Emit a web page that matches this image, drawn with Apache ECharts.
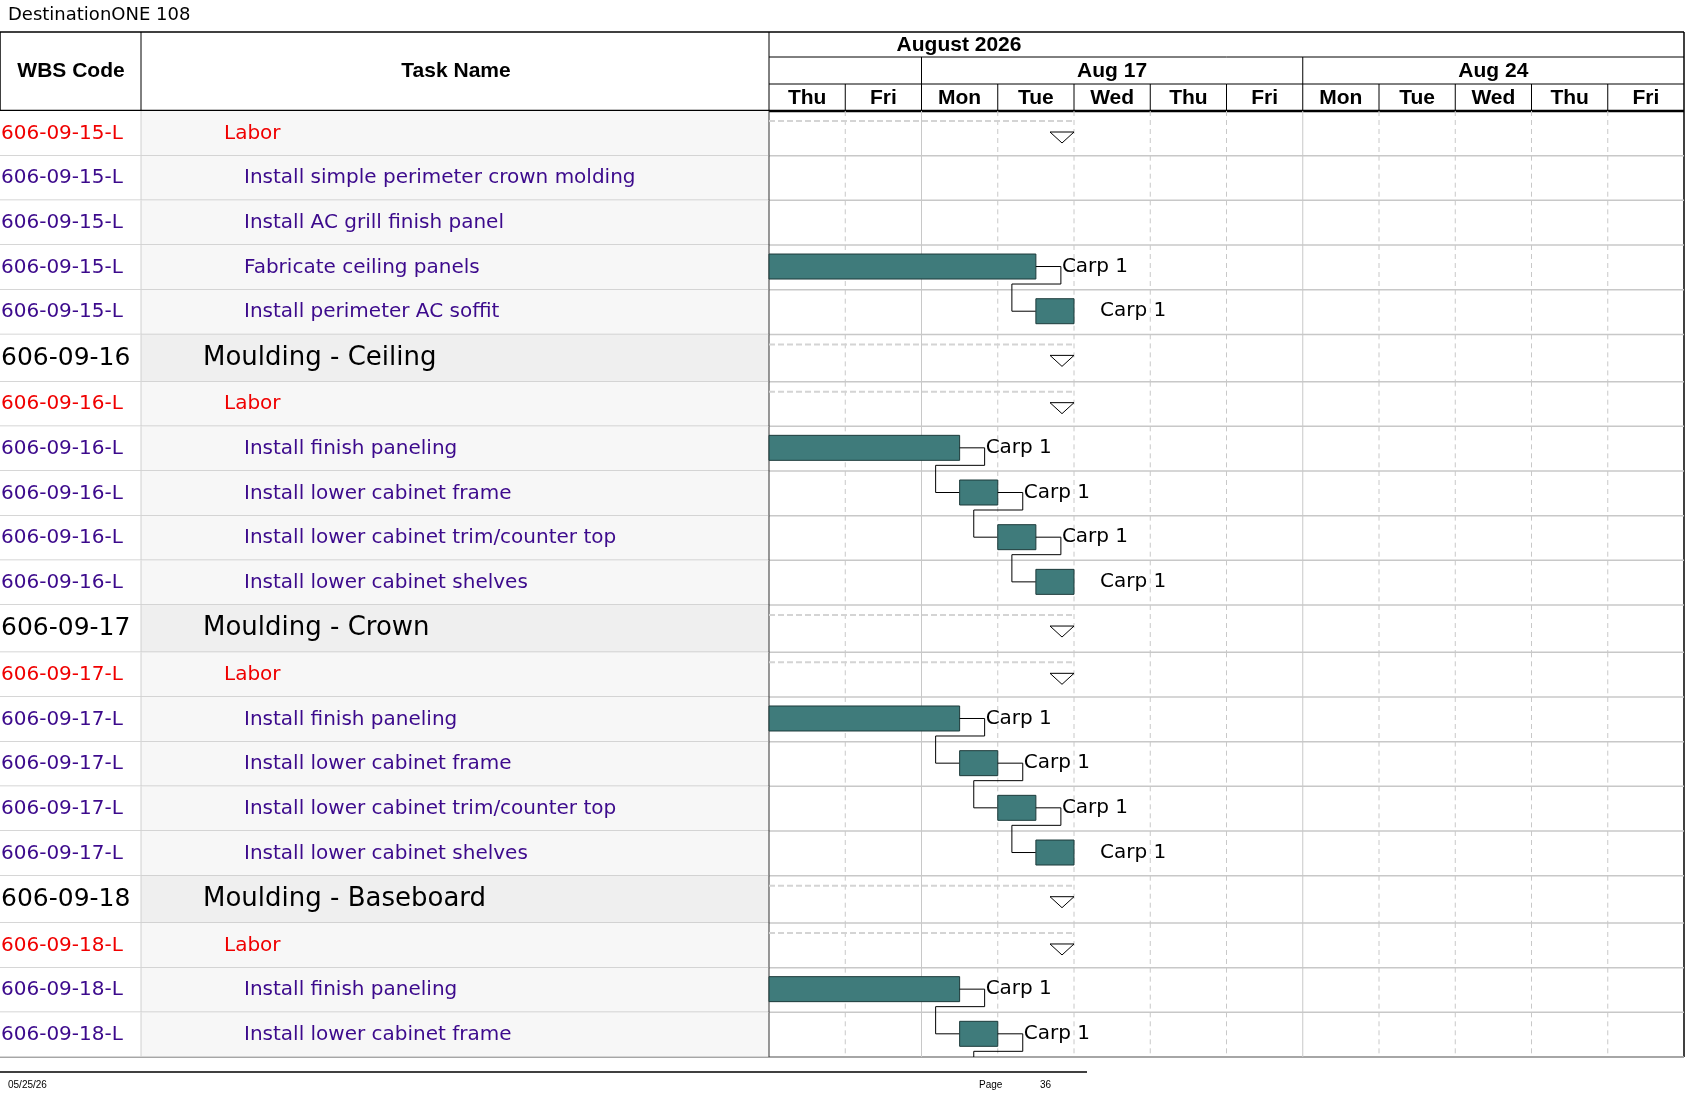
<!DOCTYPE html>
<html>
<head>
<meta charset="utf-8">
<script src="https://cdn.jsdelivr.net/npm/echarts@6/dist/echarts.min.js"></script>
<style>
  html, body { margin: 0; padding: 0; background: #fff; }
  #gantt { width: 1687px; height: 1097px; }
</style>
</head>
<body>
<div id="gantt"></div>
<script>
(function () {
var chart = echarts.init(document.getElementById('gantt'));

var FONT = 'DejaVu Sans';
var HEAD_FONT = 'Liberation Sans';
var NORMAL_H = 44.7, GROUP_H = 47.3;

var days = ['Thu', 'Fri', 'Mon', 'Tue', 'Wed', 'Thu', 'Fri', 'Mon', 'Tue', 'Wed', 'Thu', 'Fri'];
var weeks = [
    { label: '', from: 0, to: 2 },
    { label: 'Aug 17', from: 2, to: 7 },
    { label: 'Aug 24', from: 7, to: 12 }
];

// type: group / labor / task ; s,e = day offsets from Thu Aug 13
var rows = [
    { wbs: '606-09-15-L', name: 'Labor', type: 'labor', sum: [0, 4] },
    { wbs: '606-09-15-L 01', name: 'Install simple perimeter crown molding', type: 'task' },
    { wbs: '606-09-15-L 02', name: 'Install AC grill finish panel', type: 'task' },
    { wbs: '606-09-15-L 03', name: 'Fabricate ceiling panels', type: 'task', s: 0, e: 3.5, res: 'Carp 1', next: true },
    { wbs: '606-09-15-L 04', name: 'Install perimeter AC soffit', type: 'task', s: 3.5, e: 4, res: 'Carp 1' },
    { wbs: '606-09-16', name: 'Moulding - Ceiling', type: 'group', sum: [0, 4] },
    { wbs: '606-09-16-L', name: 'Labor', type: 'labor', sum: [0, 4] },
    { wbs: '606-09-16-L 01', name: 'Install finish paneling', type: 'task', s: 0, e: 2.5, res: 'Carp 1', next: true },
    { wbs: '606-09-16-L 02', name: 'Install lower cabinet frame', type: 'task', s: 2.5, e: 3, res: 'Carp 1', next: true },
    { wbs: '606-09-16-L 03', name: 'Install lower cabinet trim/counter top', type: 'task', s: 3, e: 3.5, res: 'Carp 1', next: true },
    { wbs: '606-09-16-L 04', name: 'Install lower cabinet shelves', type: 'task', s: 3.5, e: 4, res: 'Carp 1' },
    { wbs: '606-09-17', name: 'Moulding - Crown', type: 'group', sum: [0, 4] },
    { wbs: '606-09-17-L', name: 'Labor', type: 'labor', sum: [0, 4] },
    { wbs: '606-09-17-L 01', name: 'Install finish paneling', type: 'task', s: 0, e: 2.5, res: 'Carp 1', next: true },
    { wbs: '606-09-17-L 02', name: 'Install lower cabinet frame', type: 'task', s: 2.5, e: 3, res: 'Carp 1', next: true },
    { wbs: '606-09-17-L 03', name: 'Install lower cabinet trim/counter top', type: 'task', s: 3, e: 3.5, res: 'Carp 1', next: true },
    { wbs: '606-09-17-L 04', name: 'Install lower cabinet shelves', type: 'task', s: 3.5, e: 4, res: 'Carp 1' },
    { wbs: '606-09-18', name: 'Moulding - Baseboard', type: 'group', sum: [0, 4] },
    { wbs: '606-09-18-L', name: 'Labor', type: 'labor', sum: [0, 4] },
    { wbs: '606-09-18-L 01', name: 'Install finish paneling', type: 'task', s: 0, e: 2.5, res: 'Carp 1', next: true },
    { wbs: '606-09-18-L 02', name: 'Install lower cabinet frame', type: 'task', s: 2.5, e: 3, res: 'Carp 1', next: 'cut' }
];

var rowTop = 0;
var data = rows.map(function (r, i) {
    var h = r.type == 'group' ? GROUP_H : NORMAL_H;
    var item = [i, rowTop, h, r.s == null ? 0 : r.s, r.e == null ? 0 : r.e];
    rowTop += h;
    return item;
});
var total = rowTop;

var colors = { group: '#000', labor: '#f00000', task: '#3c0a8c' };

function renderRow(params, api) {
    var r = rows[api.value(0)];
    var y0 = api.coord([0, api.value(1)])[1];
    var y1 = api.coord([0, api.value(1) + api.value(2)])[1];
    var ym = (y0 + y1) / 2;
    var X = function (d) { return api.coord([d, 0])[0]; };
    var isGroup = r.type == 'group';
    var ch = [];

    ch.push({ type: 'rect', shape: { x: 0, y: y0, width: 141, height: y1 - y0 }, style: { fill: '#fff' } });
    ch.push({ type: 'rect', shape: { x: 141, y: y0, width: 628, height: y1 - y0 }, style: { fill: isGroup ? '#efefef' : '#f7f7f7' } });

    for (var d = 1; d < 12; d++) {
        var wk = d == 2 || d == 7;
        ch.push({ type: 'line', shape: { x1: X(d), y1: y0, x2: X(d), y2: y1 },
            style: { stroke: '#c8c8c8', lineWidth: 1, lineDash: wk ? null : [5, 4] } });
    }
    ch.push({ type: 'line', shape: { x1: 0, y1: y1, x2: 1684, y2: y1 }, style: { stroke: '#c8c8c8', lineWidth: 1.5 } });
    ch.push({ type: 'line', shape: { x1: 141, y1: y0, x2: 141, y2: y1 }, style: { stroke: '#d0d0d0', lineWidth: 1 } });
    ch.push({ type: 'line', shape: { x1: 769, y1: y0, x2: 769, y2: y1 }, style: { stroke: '#333', lineWidth: 1 } });

    ch.push({ type: 'text', style: {
        x: 1, y: ym, text: r.wbs, fill: colors[r.type], width: 140, overflow: 'truncate', ellipsis: '',
        font: (isGroup ? 25 : 20) + 'px "' + FONT + '"', verticalAlign: 'middle' } });
    var nx = isGroup ? 203 : (r.type == 'labor' ? 224 : 244);
    ch.push({ type: 'text', style: {
        x: nx, y: ym, text: r.name, fill: colors[r.type],
        font: (isGroup ? 26 : 20) + 'px "' + FONT + '"', verticalAlign: 'middle' } });

    if (r.sum) {
        var sx0 = X(r.sum[0]), sx1 = X(r.sum[1]);
        ch.push({ type: 'line', shape: { x1: sx0, y1: y0 + 10, x2: sx1, y2: y0 + 10 },
            style: { stroke: '#d4d4d4', lineWidth: 2, lineDash: [6, 3] } });
        ch.push({ type: 'polygon', shape: { points: [[sx1 - 24, y0 + 21], [sx1, y0 + 21], [sx1 - 12, y0 + 32]] },
            style: { fill: '#fff', stroke: '#000', lineWidth: 1 } });
    }

    if (r.s != null) {
        var bx0 = X(api.value(3)), bx1 = X(api.value(4));
        var bt = y0 + 9, bb = y0 + 34;
        ch.push({ type: 'rect', shape: { x: bx0, y: bt, width: bx1 - bx0, height: bb - bt },
            style: { fill: '#3f7b7b', stroke: '#1d3b3b', lineWidth: 1 } });
        var my = (bt + bb) / 2;
        if (r.next) {
            ch.push({ type: 'line', shape: { x1: bx1, y1: my, x2: bx1 + 25, y2: my }, style: { stroke: '#000', lineWidth: 1 } });
            var cy = bb + 5;
            var nx0 = bx1 - 24;
            var pts = [[bx1 + 25, my], [bx1 + 25, cy], [nx0, cy], [nx0, r.next == 'cut' ? y1 : y1 + 21.5]];
            if (r.next !== 'cut') pts.push([bx1, y1 + 21.5]);
            ch.push({ type: 'polyline', shape: { points: pts }, style: { stroke: '#000', lineWidth: 1, fill: null } });
        }
        ch.push({ type: 'text', style: { x: bx1 + 26, y: my, text: r.res, fill: '#000',
            font: '20px "' + FONT + '"', verticalAlign: 'middle' } });
    }
    return { type: 'group', children: ch };
}

var option = {
    animation: false,
    grid: { left: 769, right: 3, top: 111, bottom: 40 },
    xAxis: { type: 'value', min: 0, max: 12, show: false },
    yAxis: { type: 'value', min: 0, max: total, inverse: true, show: false },
    series: [{
        type: 'custom',
        renderItem: renderRow,
        clip: false,
        encode: { x: [3, 4], y: 1 },
        data: data
    }]
};
chart.setOption(option);

// header, frame, footer
var px = function (d) { return chart.convertToPixel({ gridIndex: 0 }, [d, 0])[0]; };
var yEnd = chart.convertToPixel({ gridIndex: 0 }, [0, total])[1];
var g = [];
var hfont = 'bold 21px "' + HEAD_FONT + '"';
function line(x1, y1, x2, y2, w, c) {
    g.push({ type: 'line', shape: { x1: x1, y1: y1, x2: x2, y2: y2 }, style: { stroke: c || '#000', lineWidth: w || 1 } });
}
function text(x, y, t, f, align) {
    g.push({ type: 'text', style: { x: x, y: y, text: t, font: f, fill: '#000', align: align || 'center', verticalAlign: 'middle' } });
}
text(8, 15, 'DestinationONE 108', '18px "' + FONT + '"', 'left');
line(0, 32, 1684, 32, 1.5);
line(1684, 32, 1684, yEnd, 1.5);
line(0, 32, 0, yEnd, 1.5);
line(141, 32, 141, 111, 1);
line(769, 32, 769, 111, 1);
line(769, 57, 1684, 57, 1);
line(769, 84, 1684, 84, 1);
line(0, 111, 1684, 111, 2.5);
line(0, yEnd, 1684, yEnd, 1.5);
text(71, 71, 'WBS Code', hfont);
text(456, 71, 'Task Name', hfont);
text(959, 45, 'August 2026', hfont);
weeks.forEach(function (w) {
    if (w.from > 0) line(px(w.from), 57, px(w.from), 84, 1);
    text((px(w.from) + px(w.to)) / 2, 71, w.label, hfont);
});
days.forEach(function (d, i) {
    if (i > 0) line(px(i), 84, px(i), 111, 1);
    text((px(i) + px(i + 1)) / 2, 98, d, hfont);
});
line(0, 1072, 1087, 1072, 1.5);
text(8, 1085, '05/25/26', '10px "' + HEAD_FONT + '"', 'left');
text(979, 1085, 'Page', '10px "' + HEAD_FONT + '"', 'left');
text(1040, 1085, '36', '10px "' + HEAD_FONT + '"', 'left');

chart.setOption({ graphic: g });
})();
</script>
</body>
</html>
